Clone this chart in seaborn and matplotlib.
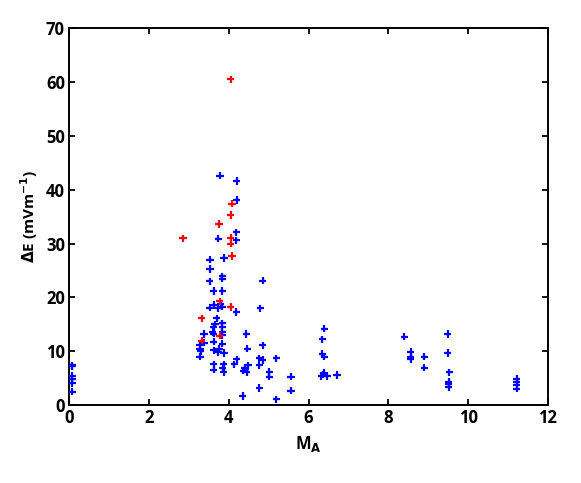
import matplotlib
matplotlib.use('Agg')
import matplotlib.pyplot as plt
import pandas as pd
import seaborn as sns

# blue events
blue_ma = [0.07, 0.07, 0.07, 0.07, 0.07, 0.07,
           3.28, 3.38, 3.28, 3.28, 3.38, 3.30,
           3.53, 3.53, 3.52, 3.62, 3.52, 3.63, 3.62, 3.62, 3.62, 3.62, 3.62, 3.62, 3.60, 3.66,
           3.78, 3.74, 3.88, 3.84, 3.84, 3.84, 3.84, 3.70, 3.84, 3.84, 3.84, 3.84, 3.84, 3.74,
           3.88, 3.87, 3.87, 3.85, 3.80, 3.72, 3.76,
           4.20, 4.20, 4.19, 4.19, 4.19, 4.20, 4.14,
           4.44, 4.47, 4.41, 4.45, 4.37, 4.49, 4.35, 4.42,
           4.85, 4.79, 4.85, 4.77, 4.85, 4.77, 4.77,
           5.19, 5.02, 5.02, 5.19,
           5.56, 5.56,
           6.40, 6.35, 6.35, 6.40, 6.37, 6.32, 6.46, 6.71, 6.38,
           8.40, 8.56, 8.56, 8.56, 8.90, 8.90,
           9.49, 9.49, 9.53, 9.51, 9.51, 9.51,
           11.22, 11.22, 11.22, 11.22]
blue_de = [7.4, 7.2, 5.4, 4.8, 4.1, 2.5,
           11.1, 11.6, 10.5, 9.0, 13.2, 10.0,
           27.0, 25.3, 23.0, 21.2, 18.1, 18.6, 14.5, 13.3, 11.8, 10.2, 7.6, 6.6, 13.6, 15.0,
           42.6, 30.9, 27.3, 23.9, 23.5, 21.2, 18.3, 16.1, 15.2, 14.5, 13.6, 13.0, 11.4, 9.9,
           9.7, 7.6, 6.2, 7.0, 18.8, 18.0, 10.5,
           41.6, 38.1, 32.1, 30.6, 17.3, 8.5, 7.6,
           13.2, 10.5, 7.0, 6.2, 6.4, 7.4, 1.7, 6.8,
           23.1, 18.0, 11.1, 8.7, 8.4, 7.4, 3.2,
           8.7, 6.2, 5.3, 1.1,
           5.3, 2.7,
           14.2, 12.2, 9.5, 9.0, 5.7, 5.4, 5.4, 5.6, 6.0,
           12.7, 9.9, 9.0, 8.5, 9.0, 7.0,
           13.2, 9.7, 6.1, 4.3, 4.0, 3.3,
           4.9, 4.3, 3.7, 3.1]

# red events
red_ma = [4.05, 2.85, 3.32, 3.32, 3.76, 4.08, 4.05, 4.05, 4.05, 4.08, 3.77, 4.05, 3.77]
red_de = [60.5, 31.0, 16.1, 12.0, 33.6, 37.4, 35.3, 31.1, 30.0, 27.7, 19.3, 18.2, 12.9]

df = pd.DataFrame({'MA': blue_ma + red_ma,
                   'dE': blue_de + red_de,
                   'grp': ['blue'] * len(blue_ma) + ['red'] * len(red_ma)})

sns.set_style('ticks')
plt.rcParams['font.family'] = ['Open Sans', 'DejaVu Sans']
plt.rcParams['font.weight'] = 'bold'
plt.rcParams['mathtext.default'] = 'bf'
plt.rcParams['text.color'] = 'black'
plt.rcParams['axes.labelcolor'] = 'black'

fig = plt.figure(figsize=(5.81, 4.83), dpi=100)
ax = fig.add_axes([0.119, 0.161, 0.824, 0.781])

sns.scatterplot(data=df, x='MA', y='dE', hue='grp',
                palette={'blue': '#0000ff', 'red': '#ff0000'},
                marker='+', s=28, linewidth=1.6, legend=False, ax=ax, zorder=3)

ax.set_xlim(0, 12)
ax.set_ylim(0, 70)
ax.set_xticks(range(0, 13, 2))
ax.set_yticks(range(0, 71, 10))
ax.tick_params(direction='in', top=True, right=True, length=4, width=1.3,
               labelsize=12, colors='black', pad=3)
for lab in ax.get_xticklabels() + ax.get_yticklabels():
    lab.set_fontweight('bold')
for sp in ax.spines.values():
    sp.set_linewidth(1.4)
    sp.set_color('black')

ax.set_xlabel(r'M$_\mathbf{A}$', fontsize=12, fontweight='bold', labelpad=5)
ax.set_ylabel(r'$\Delta$E (mVm$^{\mathbf{-1}}$)', fontsize=11, fontweight='bold', labelpad=4)

fig.savefig('out.png', dpi=100, facecolor='white')
